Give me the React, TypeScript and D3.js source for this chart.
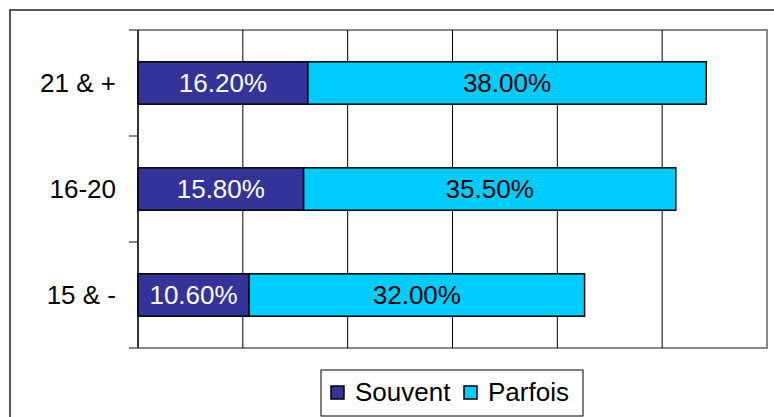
import React, { useRef, useEffect } from 'react';
import * as d3 from 'd3';

const categories = ['21 & +', '16-20', '15 & -'];
const souvent = [16.2, 15.8, 10.6];
const parfois = [38.0, 35.5, 32.0];
const gridTicks = [0, 10, 20, 30, 40, 50, 60];
const seriesNames = ['Souvent', 'Parfois'];
const seriesColors = ['#333399', '#00CCFF'];
const labelColors = ['#FFFFFF', '#000000'];

const W = 774;
const H = 417;
const FONT = '"Liberation Sans", Arial, sans-serif';
const FS = 26;

const App = () => {
  const svgRef = useRef<SVGSVGElement>(null);

  useEffect(() => {
    document.body.style.margin = '0';
    const svg = d3.select(svgRef.current);
    svg.selectAll('*').remove();

    // plot area
    const left = 138, right = 767, top = 30, bottom = 348;

    const x = d3.scaleLinear().domain([0, 60]).range([left, right]);
    const y = d3.scaleBand().domain(categories).range([top, bottom]).paddingInner(0.6).paddingOuter(0.3);
    const yb = d3.scaleBand().domain(categories).range([top, bottom]);

    // outer border
    svg.append('rect')
      .attr('x', 10).attr('y', 10)
      .attr('width', 800).attr('height', 450)
      .attr('fill', 'white')
      .attr('stroke', '#222').attr('stroke-width', 1.5);

    // plot border (grey)
    svg.append('rect')
      .attr('x', left).attr('y', top)
      .attr('width', right - left).attr('height', bottom - top)
      .attr('fill', 'none')
      .attr('stroke', '#888').attr('stroke-width', 2);

    // gridlines
    svg.append('g')
      .selectAll('line')
      .data(gridTicks.slice(1, -1))
      .enter()
      .append('line')
      .attr('x1', d => x(d)).attr('x2', d => x(d))
      .attr('y1', top).attr('y2', bottom)
      .attr('stroke', '#000').attr('stroke-width', 1);

    // bottom axis extension to the left
    svg.append('line')
      .attr('x1', left - 9).attr('x2', left)
      .attr('y1', bottom).attr('y2', bottom)
      .attr('stroke', '#888').attr('stroke-width', 2);

    // category boundary ticks
    const bounds = categories.map(c => yb(c) as number);
    svg.append('g')
      .selectAll('line')
      .data(bounds)
      .enter()
      .append('line')
      .attr('x1', left - 9).attr('x2', left)
      .attr('y1', d => d).attr('y2', d => d)
      .attr('stroke', '#888').attr('stroke-width', 2);

    // left axis line
    svg.append('line')
      .attr('x1', left).attr('x2', left)
      .attr('y1', top).attr('y2', bottom)
      .attr('stroke', '#333').attr('stroke-width', 2);

    // category labels
    svg.append('g')
      .selectAll('text')
      .data(categories)
      .enter()
      .append('text')
      .attr('x', 116)
      .attr('y', d => (yb(d) as number) + yb.bandwidth() / 2)
      .attr('dy', '0.36em')
      .attr('text-anchor', 'end')
      .attr('font-family', FONT)
      .attr('font-size', FS)
      .attr('fill', '#000')
      .text(d => d);

    // stacked bars
    const rows = categories.map((c, i) => ({ cat: c, vals: [souvent[i], parfois[i]] }));
    rows.forEach(r => {
      let acc = 0;
      r.vals.forEach((v, si) => {
        const x0 = x(acc), x1 = x(acc + v);
        const yy = y(r.cat) as number;
        svg.append('rect')
          .attr('x', x0).attr('y', yy)
          .attr('width', x1 - x0).attr('height', y.bandwidth())
          .attr('fill', seriesColors[si])
          .attr('stroke', '#000').attr('stroke-width', 1.5);
        svg.append('text')
          .attr('x', (x0 + x1) / 2)
          .attr('y', yy + y.bandwidth() / 2)
          .attr('dy', '0.36em')
          .attr('text-anchor', 'middle')
          .attr('font-family', FONT)
          .attr('font-size', FS)
          .attr('fill', labelColors[si])
          .text(v.toFixed(2) + '%');
        acc += v;
      });
    });

    // legend
    const legend = svg.append('g');
    legend.append('rect')
      .attr('x', 321).attr('y', 370)
      .attr('width', 262).attr('height', 46)
      .attr('fill', 'white')
      .attr('stroke', '#000').attr('stroke-width', 1);
    const legendX = [331, 464];
    seriesNames.forEach((name, i) => {
      legend.append('rect')
        .attr('x', legendX[i]).attr('y', 386)
        .attr('width', 13).attr('height', 13)
        .attr('fill', seriesColors[i])
        .attr('stroke', '#000').attr('stroke-width', 1.5);
      legend.append('text')
        .attr('x', legendX[i] + 24).attr('y', 401)
        .attr('font-family', FONT)
        .attr('font-size', FS)
        .attr('fill', '#000')
        .text(name);
    });
  }, []);

  return <svg ref={svgRef} width={W} height={H} style={{ display: 'block' }}></svg>;
};

export default App;
